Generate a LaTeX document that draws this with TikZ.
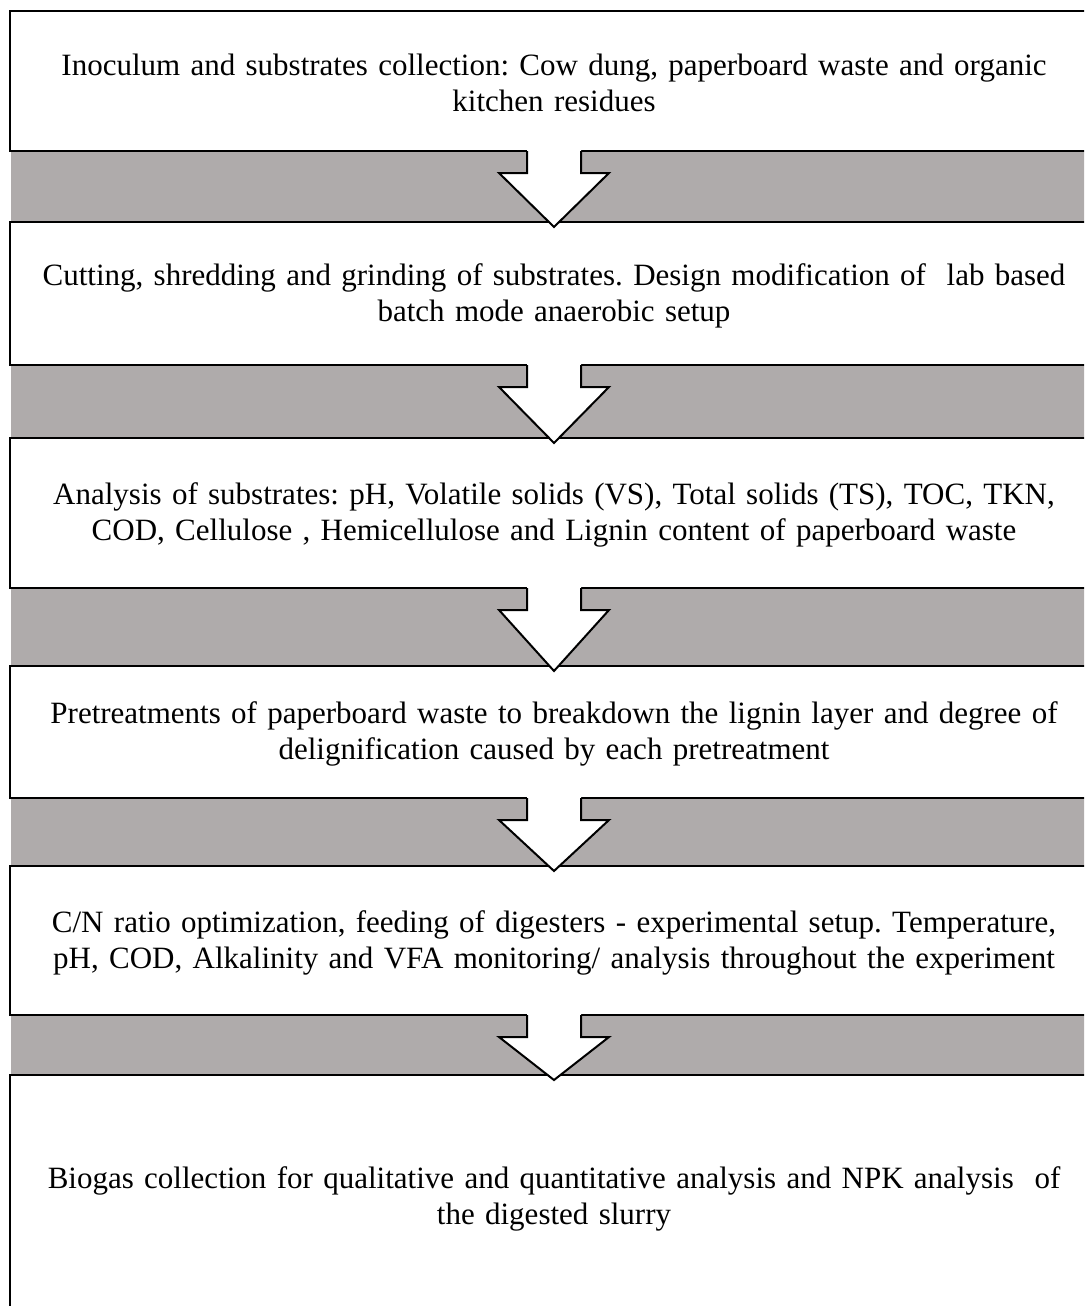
\documentclass[tikz,border=0pt]{standalone}
\usepackage{fontspec}
\setmainfont{Liberation Serif}
\usetikzlibrary{calc}
\definecolor{bandgray}{RGB}{175,171,171}
\tikzset{
  stagebox/.style={draw=black, fill=white, line width=2pt, outer sep=0pt, inner sep=0pt,
    minimum width=1130pt},
  stagetext/.style={inner sep=0pt, text width=1080pt, align=center,
    font=\fontsize{31}{35.5}\selectfont\frenchspacing},
  band/.style={fill=bandgray, draw=none},
  flowarrow/.style={draw=black, line width=2pt, line join=miter},
}
\newcommand{\blockarrow}[3]{%
  \coordinate (#3) at (#1.south -| t1);
  \fill[white] ($(#3)+(-27,0)$) -- ($(#3)+(-27,22)$) -- ($(#3)+(-55,22)$)
     -- ($(#2.north -| t1)+(0,5)$) -- ($(#3)+(55,22)$) -- ($(#3)+(27,22)$)
     -- ($(#3)+(27,-1)$) -- ($(#3)+(-27,-1)$) -- cycle;
  \draw[flowarrow] ($(#3)+(-27,0)$) -- ($(#3)+(-27,22)$) -- ($(#3)+(-55,22)$)
     -- ($(#2.north -| t1)+(0,5)$) -- ($(#3)+(55,22)$) -- ($(#3)+(27,22)$)
     -- ($(#3)+(27,0)$);
}
\newcommand{\grayband}[2]{%
  \fill[band] ($(#1.south west)+(1,1)$) rectangle ($(#2.north east)+(0,-1)$);
}
\begin{document}
\begin{tikzpicture}[x=1pt, y=-1pt]
\useasboundingbox (0,0) rectangle (1084,1306);
\clip (0,0) rectangle (1084,1306);
\node[stagebox, minimum height=140pt] (b1) at (575,81) {};
\node[stagebox, minimum height=143pt] (b2) at (575,293.5) {};
\node[stagebox, minimum height=150pt] (b3) at (575,513) {};
\node[stagebox, minimum height=132pt] (b4) at (575,732) {};
\node[stagebox, minimum height=149pt] (b5) at (575,940.5) {};
\node[stagebox, minimum height=244pt] (b6) at (575,1197) {};
\node[stagetext] (t1) at (554,83)
  {Inoculum and substrates collection: Cow dung, paperboard waste and organic\\ kitchen residues};
\node[stagetext] (t2) at (554,296)
  {Cutting, shredding and grinding of substrates. Design modification of\ \ lab based\\ batch mode anaerobic setup};
\node[stagetext] (t3) at (554,515)
  {Analysis of substrates: pH, Volatile solids (VS), Total solids (TS), TOC, TKN,\\ COD, Cellulose , Hemicellulose and Lignin content of paperboard waste};
\node[stagetext] (t4) at (554,734)
  {Pretreatments of paperboard waste to breakdown the lignin layer and degree of\\ delignification caused by each pretreatment};
\node[stagetext] (t5) at (554,943)
  {C/N ratio optimization, feeding of digesters - experimental setup. Temperature,\\ pH, COD, Alkalinity and VFA monitoring/ analysis throughout the experiment};
\node[stagetext] (t6) at (554,1199)
  {Biogas collection for qualitative and quantitative analysis and NPK analysis\ \ of\\ the digested slurry};
\grayband{b1}{b2}
\grayband{b2}{b3}
\grayband{b3}{b4}
\grayband{b4}{b5}
\grayband{b5}{b6}
\blockarrow{b1}{b2}{a1}
\blockarrow{b2}{b3}{a2}
\blockarrow{b3}{b4}{a3}
\blockarrow{b4}{b5}{a4}
\blockarrow{b5}{b6}{a5}
\end{tikzpicture}
\end{document}
